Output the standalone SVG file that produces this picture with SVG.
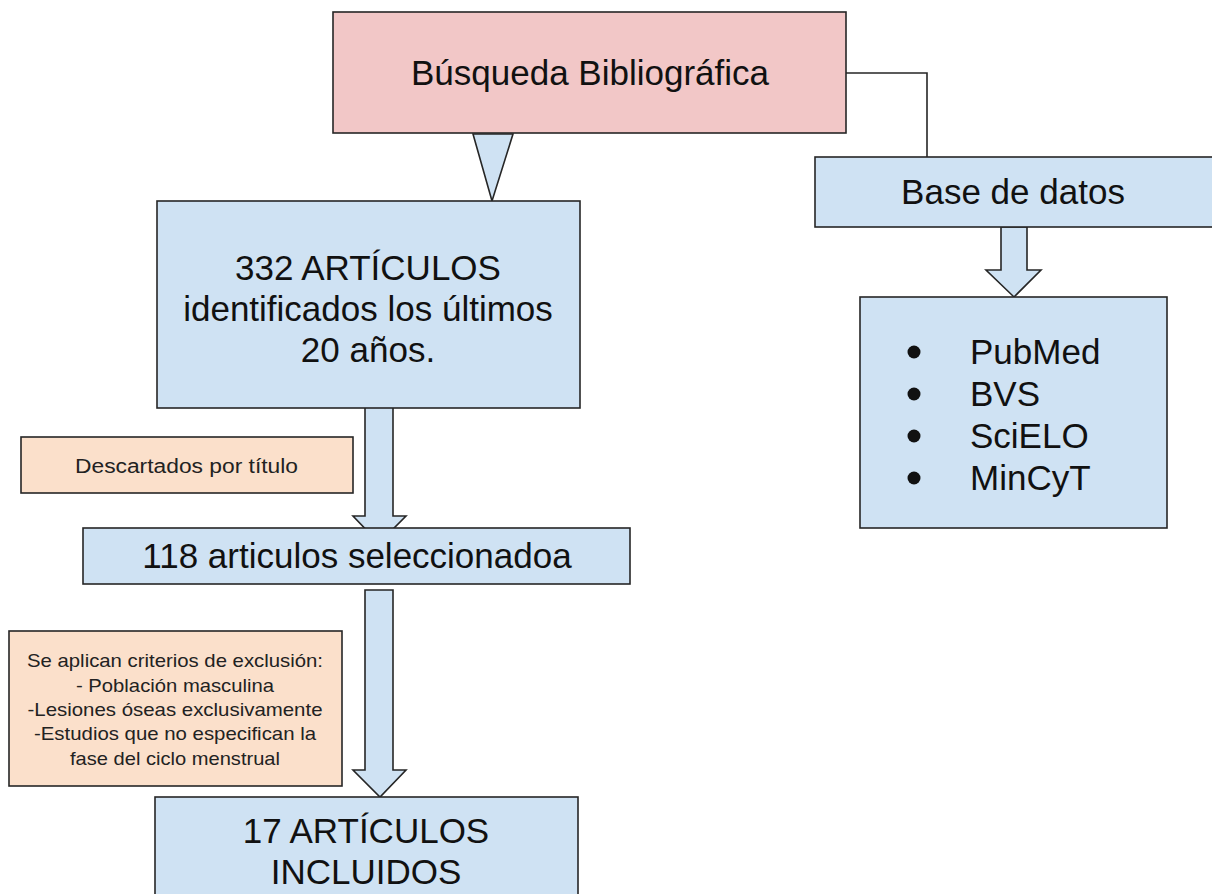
<svg xmlns="http://www.w3.org/2000/svg" width="1212" height="894" viewBox="0 0 1212 894">
<style>
.box{stroke:#262626;stroke-width:1.6}
.pink{fill:#f2c7c7}
.blue{fill:#cfe2f3}
.orange{fill:#fbe0cb}
.arrow{fill:#cfe2f3;stroke:#262626;stroke-width:1.6;stroke-linejoin:miter}
.line{fill:none;stroke:#262626;stroke-width:1.6}
text{font-family:"Liberation Sans",Arial,sans-serif;fill:#111}
.big{font-size:35px;text-anchor:middle}
.small{font-size:20px;text-anchor:middle;fill:#222}
.tiny{font-size:18.5px;text-anchor:middle;fill:#222}
.list{font-size:35px}
</style>
<rect width="1212" height="894" fill="#ffffff"/>
<g id="connectors">
<polyline class="line" points="846,73 927,73 927,157"/>
<polygon class="arrow" points="473,134 513,134 492,201"/>
<polygon class="arrow" points="365,388 393,388 393,516 406,516 379,543 353,516 365,516"/>
<polygon class="arrow" points="365,590 393,590 393,770 406,770 380,797 353,770 365,770"/>
<polygon class="arrow" points="1001,227 1027,227 1027,270 1041,270 1014,297 986,270 1001,270"/>
</g>
<g id="busqueda">
<rect class="box pink" x="333" y="12" width="513" height="121"/>
<text class="big" x="590" y="85">Búsqueda Bibliográfica</text>
</g>
<g id="base-datos">
<rect class="box blue" x="815" y="157" width="400" height="70"/>
<text class="big" x="1013" y="204">Base de datos</text>
</g>
<g id="lista-bases">
<rect class="box blue" x="860" y="297" width="307" height="231"/>
<circle cx="914" cy="352" r="6.5" fill="#111"/>
<circle cx="914" cy="394" r="6.5" fill="#111"/>
<circle cx="914" cy="436" r="6.5" fill="#111"/>
<circle cx="914" cy="478" r="6.5" fill="#111"/>
<text class="list" x="970" y="364">PubMed</text>
<text class="list" x="970" y="406">BVS</text>
<text class="list" x="970" y="448">SciELO</text>
<text class="list" x="970" y="490">MinCyT</text>
</g>
<g id="identificados">
<rect class="box blue" x="157" y="201" width="423" height="207"/>
<text class="big" x="368" y="280">332 ARTÍCULOS</text>
<text class="big" x="368" y="321">identificados los últimos</text>
<text class="big" x="368" y="362">20 años.</text>
</g>
<g id="descartados">
<rect class="box orange" x="21" y="437" width="332" height="56"/>
<text class="small" x="186.5" y="473" textLength="223" lengthAdjust="spacingAndGlyphs">Descartados por título</text>
</g>
<g id="seleccionados">
<rect class="box blue" x="83" y="528" width="547" height="56"/>
<text class="big" x="357" y="568">118 articulos seleccionadoa</text>
</g>
<g id="exclusion">
<rect class="box orange" x="9" y="631" width="333" height="155"/>
<text class="tiny" x="175" y="667" textLength="296" lengthAdjust="spacingAndGlyphs">Se aplican criterios de exclusión:</text>
<text class="tiny" x="175" y="692" textLength="198" lengthAdjust="spacingAndGlyphs">- Población masculina</text>
<text class="tiny" x="175" y="716" textLength="295" lengthAdjust="spacingAndGlyphs">-Lesiones óseas exclusivamente</text>
<text class="tiny" x="175" y="740" textLength="282" lengthAdjust="spacingAndGlyphs">-Estudios que no especifican la</text>
<text class="tiny" x="175" y="765" textLength="210" lengthAdjust="spacingAndGlyphs">fase del ciclo menstrual</text>
</g>
<g id="incluidos">
<rect class="box blue" x="155" y="797" width="423" height="110"/>
<text class="big" x="366" y="843">17 ARTÍCULOS</text>
<text class="big" x="366" y="884">INCLUIDOS</text>
</g>
</svg>
